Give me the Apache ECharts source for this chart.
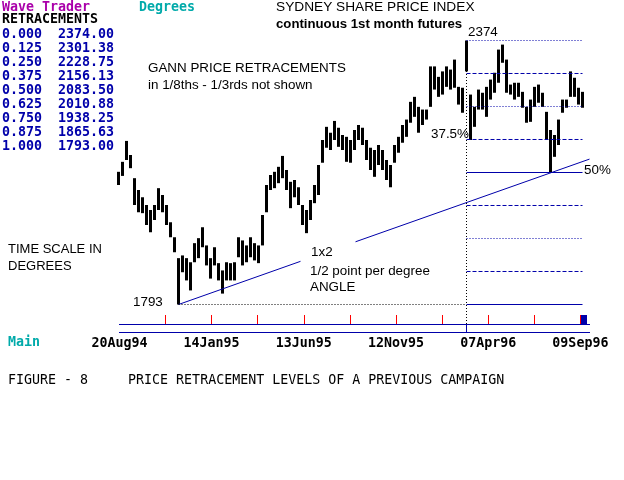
<!DOCTYPE html>
<html>
<head>
<meta charset="utf-8">
<script src="https://cdn.jsdelivr.net/npm/echarts@6/dist/echarts.min.js"></script>
<style>
  html, body { margin: 0; padding: 0; background: #fff; }
  #chart { width: 624px; height: 480px; }
</style>
</head>
<body>
<div id="chart"></div>
<script>
// price bars, one per ~week of trading (high / low)
var barHigh = [2085, 2107, 2153, 2122, 2071, 2045, 2029, 2012, 2001, 2012, 2049, 2034, 2012, 1974, 1941, 1895,
  1901, 1895, 1886, 1928, 1939, 1963, 1923, 1895, 1919, 1884, 1868, 1886, 1884, 1886, 1941, 1934,
  1923, 1941, 1928, 1923, 1990, 2056, 2078, 2085, 2096, 2120, 2089, 2063, 2067, 2051, 2012, 2001,
  2023, 2056, 2100, 2155, 2184, 2171, 2197, 2182, 2166, 2162, 2155, 2177, 2188, 2182, 2155, 2138,
  2133, 2144, 2133, 2111, 2100, 2144, 2162, 2188, 2200, 2239, 2250, 2228, 2222, 2222, 2317, 2317,
  2294, 2306, 2317, 2310, 2332, 2272, 2270, 2374, 2255, 2228, 2266, 2259, 2272, 2288, 2303, 2354,
  2365, 2332, 2277, 2281, 2281, 2261, 2228, 2244, 2272, 2277, 2259, 2217, 2177, 2166, 2200, 2244,
  2244, 2306, 2292, 2270, 2261];
var barLow = [2056, 2076, 2111, 2093, 2012, 1996, 1994, 1968, 1952, 1979, 2001, 1996, 1968, 1941, 1908, 1793,
  1864, 1846, 1824, 1886, 1895, 1919, 1879, 1850, 1879, 1846, 1817, 1846, 1846, 1846, 1897, 1879,
  1886, 1897, 1890, 1884, 1923, 1996, 2045, 2049, 2060, 2071, 2045, 2005, 2029, 2012, 1968, 1950,
  1979, 2016, 2034, 2105, 2138, 2133, 2155, 2140, 2133, 2107, 2105, 2133, 2155, 2144, 2111, 2089,
  2074, 2100, 2089, 2067, 2051, 2105, 2127, 2149, 2162, 2193, 2206, 2171, 2188, 2200, 2228, 2266,
  2250, 2255, 2272, 2266, 2270, 2233, 2215, 2306, 2155, 2184, 2222, 2222, 2206, 2244, 2259, 2281,
  2325, 2259, 2255, 2244, 2250, 2226, 2193, 2195, 2228, 2237, 2228, 2155, 2084, 2118, 2144, 2215,
  2226, 2250, 2250, 2233, 2226];

var retraceRatio = [0, 0.125, 0.25, 0.375, 0.5, 0.625, 0.75, 0.875, 1];
var retracePrice = [2374.00, 2301.38, 2228.75, 2156.13, 2083.50, 2010.88, 1938.25, 1865.63, 1793.00];
var retraceDash = ['dotted', 'dashed', 'dotted', 'dashed', 'solid', 'dashed', 'dotted', 'dashed', 'solid'];

var swingLow = [15, 1793];
var swingHigh = [87, 2374];
var levelEnd = 116;
// 1x2 gann angle from the low, broken where the note sits
var angleSegments = [
  [[15, 1793], [45.5, 1888]],
  [[59.25, 1931], [117.75, 2113]]
];

var dateLabels = ['20Aug94', '14Jan95', '13Jun95', '12Nov95', '07Apr96', '09Sep96'];
var degreeStep = 45;

var BLUE = '#0000aa';
var MONO = "'DejaVu Sans Mono', monospace";
var SANS = "'Liberation Sans', Arial, sans-serif";
var dashes = { dotted: [1, 2], dashed: [4, 2], solid: 'solid' };

var chart = echarts.init(document.getElementById('chart'));

var blackDot = { color: '#000', width: 1, type: [1, 2] };
var guideLines = [
  { xAxis: swingHigh[0], lineStyle: blackDot },
  [
    { coord: swingLow, lineStyle: blackDot },
    { coord: [swingHigh[0], swingLow[1]], lineStyle: blackDot }
  ]
];

function lineSeries(data, style) {
  return {
    type: 'line', xAxisIndex: 0, yAxisIndex: 0, data: data, clip: false,
    symbol: 'none', silent: true, lineStyle: style
  };
}

function txt(text, x, y, font, fill) {
  return { type: 'text', x: x, y: y, silent: true,
    style: { text: text, font: font, fill: fill || '#000', verticalAlign: 'middle' } };
}

var graphics = [
  txt('Wave Trader', 2, 8, 'bold 13.3px ' + MONO, '#aa00aa'),
  txt('Degrees', 139, 8, 'bold 13.3px ' + MONO, '#00aaaa'),
  txt('RETRACEMENTS', 2, 20, 'bold 13.3px ' + MONO, '#000'),
  txt('Main', 8, 343, 'bold 13.3px ' + MONO, '#00aaaa'),
  txt('SYDNEY SHARE PRICE INDEX', 276, 7, '13.7px ' + SANS),
  txt('continuous 1st month futures', 276, 24, 'bold 13.2px ' + SANS),
  txt('GANN PRICE RETRACEMENTS', 148, 68, '13.4px ' + SANS),
  txt('in 1/8ths - 1/3rds not shown', 148, 85, '13.4px ' + SANS),
  txt('TIME SCALE IN', 8, 249, '13px ' + SANS),
  txt('DEGREES', 8, 266, '13px ' + SANS),
  txt('1x2', 311, 252, '13.4px ' + SANS),
  txt('1/2 point per degree', 310, 271, '13.4px ' + SANS),
  txt('ANGLE', 310, 287, '13.4px ' + SANS),
  txt(String(swingLow[1]), 133, 302, '13.4px ' + SANS),
  txt(String(swingHigh[1]), 468, 32, '13.4px ' + SANS),
  txt((retraceRatio[3] * 100).toFixed(1) + '%', 431, 134, '13.4px ' + SANS),
  txt((retraceRatio[4] * 100) + '%', 584, 170, '13.4px ' + SANS),
  txt('FIGURE - 8     PRICE RETRACEMENT LEVELS OF A PREVIOUS CAMPAIGN', 8, 381, '13.3px ' + MONO),
  { type: 'line', silent: true, shape: { x1: 119, y1: 332.5, x2: 590, y2: 332.5 }, style: { stroke: BLUE, lineWidth: 1 } },
  { type: 'line', silent: true, shape: { x1: 466.5, y1: 324, x2: 466.5, y2: 333 }, style: { stroke: BLUE, lineWidth: 1 } },
  { type: 'rect', silent: true, shape: { x: 580, y: 315, width: 7, height: 9 }, style: { fill: BLUE } }
];
retraceRatio.forEach(function (r, i) {
  graphics.push(txt(r.toFixed(3) + '  ' + retracePrice[i].toFixed(2), 2, 34.3 + i * 14.05, 'bold 13.3px ' + MONO, BLUE));
});

var series = [
  {
    type: 'custom',
    xAxisIndex: 0, yAxisIndex: 0,
    silent: true,
    data: barHigh.map(function (h, i) { return [i, h, barLow[i]]; }),
    renderItem: function (params, api) {
      var top = api.coord([api.value(0), api.value(1)]);
      var bot = api.coord([api.value(0), api.value(2)]);
      return {
        type: 'rect',
        shape: { x: top[0] - 1.5, y: top[1], width: 3, height: Math.max(1, bot[1] - top[1]) },
        style: { fill: '#000' }
      };
    },
    markLine: {
      silent: true, symbol: 'none', animation: false,
      label: { show: false },
      data: guideLines
    }
  }
];
retracePrice.forEach(function (p, i) {
  series.push(lineSeries([[swingHigh[0], p], [levelEnd, p]],
    { color: BLUE, width: 1, type: dashes[retraceDash[i]] }));
});
angleSegments.forEach(function (seg) {
  series.push(lineSeries(seg, { color: BLUE, width: 1 }));
});

var option = {
  backgroundColor: '#fff',
  animation: false,
  grid: [
    // levels fall on pixel centres: 33 px per eighth
    { left: 118.5, top: 40.5, width: 472, height: 283.5 },
    { left: 119.4, top: 315, width: 470.2, height: 9.3 }
  ],
  xAxis: [
    { gridIndex: 0, type: 'value', min: 0, max: 118, show: false },
    {
      gridIndex: 1, type: 'value', min: 0, max: 459, interval: degreeStep,
      axisLine: { lineStyle: { color: BLUE, width: 1 } },
      axisTick: { show: false },
      splitLine: { show: true, showMinLine: false, showMaxLine: false, lineStyle: { color: '#ff0000', width: 1 } },
      axisLabel: {
        margin: 12, color: '#000', fontFamily: MONO, fontWeight: 'bold', fontSize: 13.3, lineHeight: 14,
        showMinLabel: true, showMaxLabel: false, hideOverlap: false,
        formatter: function (v) { return v % (2 * degreeStep) === 0 ? dateLabels[v / (2 * degreeStep)] : ''; }
      }
    }
  ],
  yAxis: [
    { gridIndex: 0, type: 'value', min: 2374 - 283.5 * 581 / 264, max: 2374, show: false },
    { gridIndex: 1, type: 'value', min: 0, max: 1, show: false }
  ],
  graphic: graphics,
  series: series
};

chart.setOption(option);
</script>
</body>
</html>
